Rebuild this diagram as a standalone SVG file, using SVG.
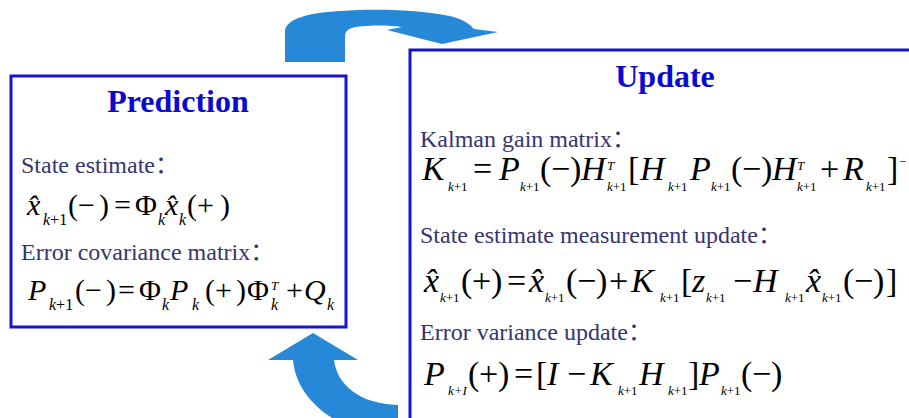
<svg xmlns="http://www.w3.org/2000/svg" width="909" height="418" viewBox="0 0 909 418">
<style>
.box{fill:#fff;stroke:#1717c9;stroke-width:3}
.title{font-family:"Liberation Serif",serif;font-weight:bold;font-size:32px;fill:#0b0bcf;text-anchor:middle}
.lbl{font-family:"Liberation Serif","Noto Sans CJK SC",serif;font-size:24px;fill:#35356f}
.eq{font-family:"Liberation Serif","DejaVu Serif",serif;fill:#000}
.p{font-size:30px}
.u{font-size:34px}
.i{font-style:italic}
.s{font-size:16px}
.su{font-size:13px}
.t{font-size:13px;font-style:italic}
.arrow{fill:#2688d6}
</style>
<rect width="909" height="418" fill="#fff"/>
<g id="connectors">
<path class="arrow" d="M285,62 L285,30 C288,19 306,13 340,11 C385,8 425,11 450,16 C462,19 470,24 474,29 L498,32 L442,44 L387,30 L402,27 C388,25 370,25 356,27 C349,28 345,31 345,36 L345,62 Z"/>
<path class="arrow" d="M313,333 L358,360 L334,360 C337,385 360,404 398,405 L398,430 L355,430 C320,415 296,392 293,360 L268,360 Z"/>
</g>
<g id="prediction">
<rect class="box" x="11" y="76" width="335" height="251"/>
<text class="title" x="178" y="112">Prediction</text>
<text class="lbl" x="21" y="173">State estimate：</text>
<text class="eq p" y="215"><tspan class="i" x="27">x̂</tspan><tspan class="s" x="43" y="225"><tspan class="i">k</tspan>+1</tspan><tspan x="68" y="215">(</tspan><tspan x="78">−</tspan><tspan x="99">)</tspan><tspan x="114">=</tspan><tspan x="135">Φ</tspan><tspan class="s i" x="158" y="225">k</tspan><tspan class="i" x="165" y="215">x̂</tspan><tspan class="s i" x="179" y="225">k</tspan><tspan x="187" y="215">(</tspan><tspan x="197">+</tspan><tspan x="220">)</tspan></text>
<text class="lbl" x="21" y="260">Error covariance matrix：</text>
<text class="eq p" y="300"><tspan class="i" x="28">P</tspan><tspan class="s" x="49" y="310"><tspan class="i">k</tspan>+1</tspan><tspan x="75" y="300">(</tspan><tspan x="85">−</tspan><tspan x="106">)</tspan><tspan x="118">=</tspan><tspan x="139">Φ</tspan><tspan class="s i" x="162" y="310">k</tspan><tspan class="i" x="170" y="300">P</tspan><tspan class="s i" x="192" y="310">k</tspan><tspan x="205" y="300">(</tspan><tspan x="215">+</tspan><tspan x="236">)</tspan><tspan x="247">Φ</tspan><tspan class="t" x="271" y="290">T</tspan><tspan class="s i" x="271" y="310">k</tspan><tspan x="286" y="300">+</tspan><tspan class="i" x="304">Q</tspan><tspan class="s i" x="327" y="310">k</tspan></text>
</g>
<g id="update">
<rect class="box" x="410" y="50" width="520" height="400"/>
<text class="title" x="665" y="87">Update</text>
<text class="lbl" x="420" y="147">Kalman gain matrix：</text>
<text class="eq u" y="180"><tspan class="i" x="422">K</tspan><tspan class="su" x="448" y="191"><tspan class="i">k</tspan>+1</tspan><tspan x="473" y="180">=</tspan><tspan class="i" x="499">P</tspan><tspan class="su" x="520" y="191"><tspan class="i">k</tspan>+1</tspan><tspan x="540" y="180">(</tspan><tspan x="551">−</tspan><tspan x="570">)</tspan><tspan class="i" x="581">H</tspan><tspan class="t" x="607" y="170">T</tspan><tspan class="su" x="607" y="191"><tspan class="i">k</tspan>+1</tspan><tspan x="628" y="180">[</tspan><tspan class="i" x="640">H</tspan><tspan class="su" x="668" y="191"><tspan class="i">k</tspan>+1</tspan><tspan class="i" x="690" y="180">P</tspan><tspan class="su" x="711" y="191"><tspan class="i">k</tspan>+1</tspan><tspan x="731" y="180">(</tspan><tspan x="742">−</tspan><tspan x="761">)</tspan><tspan class="i" x="772">H</tspan><tspan class="t" x="797" y="170">T</tspan><tspan class="su" x="797" y="191"><tspan class="i">k</tspan>+1</tspan><tspan x="820" y="180">+</tspan><tspan class="i" x="843">R</tspan><tspan class="su" x="866" y="191"><tspan class="i">k</tspan>+1</tspan><tspan x="887" y="180">]</tspan><tspan class="su" x="899" y="166">−</tspan></text>
<text class="lbl" x="420" y="243">State estimate measurement update：</text>
<text class="eq u" y="292"><tspan class="i" x="424">x̂</tspan><tspan class="su" x="440" y="302"><tspan class="i">k</tspan>+1</tspan><tspan x="461" y="292">(</tspan><tspan x="472">+</tspan><tspan x="491">)</tspan><tspan x="507">=</tspan><tspan class="i" x="529">x̂</tspan><tspan class="su" x="545" y="302"><tspan class="i">k</tspan>+1</tspan><tspan x="566" y="292">(</tspan><tspan x="577">−</tspan><tspan x="596">)</tspan><tspan x="609">+</tspan><tspan class="i" x="631">K</tspan><tspan class="su" x="660" y="302"><tspan class="i">k</tspan>+1</tspan><tspan x="681" y="292">[</tspan><tspan class="i" x="692">z</tspan><tspan class="su" x="706" y="302"><tspan class="i">k</tspan>+1</tspan><tspan x="733" y="292">−</tspan><tspan class="i" x="753">H</tspan><tspan class="su" x="785" y="302"><tspan class="i">k</tspan>+1</tspan><tspan class="i" x="806" y="292">x̂</tspan><tspan class="su" x="822" y="302"><tspan class="i">k</tspan>+1</tspan><tspan x="843" y="292">(</tspan><tspan x="854">−</tspan><tspan x="873">)</tspan><tspan x="886">]</tspan></text>
<text class="lbl" x="420" y="340">Error variance update：</text>
<text class="eq u" y="385"><tspan class="i" x="424">P</tspan><tspan class="su i" x="448" y="395">k+I</tspan><tspan x="468" y="385">(</tspan><tspan x="479">+</tspan><tspan x="498">)</tspan><tspan x="514">=</tspan><tspan x="536">[</tspan><tspan class="i" x="547">I</tspan><tspan x="567">−</tspan><tspan class="i" x="590">K</tspan><tspan class="su" x="618" y="395"><tspan class="i">k</tspan>+1</tspan><tspan class="i" x="639" y="385">H</tspan><tspan class="su" x="668" y="395"><tspan class="i">k</tspan>+1</tspan><tspan x="688" y="385">]</tspan><tspan class="i" x="699">P</tspan><tspan class="su" x="721" y="395"><tspan class="i">k</tspan>+1</tspan><tspan x="741" y="385">(</tspan><tspan x="752">−</tspan><tspan x="771">)</tspan></text>
</g>
</svg>
